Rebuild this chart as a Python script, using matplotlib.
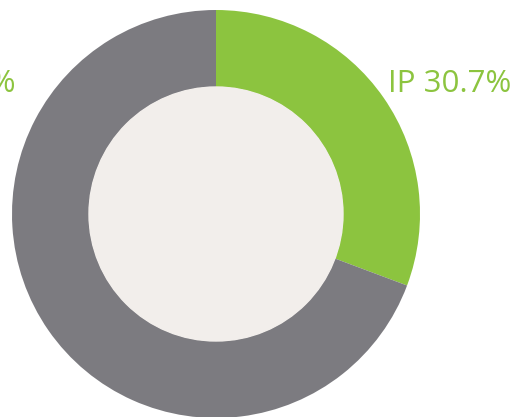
import matplotlib
matplotlib.use('Agg')
import matplotlib.pyplot as plt
from matplotlib.patches import Circle

labels = ['IP', '']
values = [30.7, 69.3]
label_text = ['IP 30.7%', '69.3%']

verde = '#8cc43f'
grigio = '#7c7b80'
crema = '#f2eeeb'

fig = plt.figure(figsize=(5.27, 4.17), dpi=100)
ax = fig.add_axes([0, 0, 1, 1])
ax.set_xlim(0, 527)
ax.set_ylim(0, 417)
ax.set_aspect('equal')
ax.axis('off')

cx, cy = 216, 203
r_out, r_in = 204, 127

ax.pie(values, colors=[verde, grigio], startangle=90, counterclock=False,
       center=(cx, cy), radius=r_out,
       wedgeprops=dict(width=r_out - r_in, linewidth=0))
ax.add_patch(Circle((cx, cy), r_in, color=crema, zorder=3))
ax.set_xlim(0, 527)
ax.set_ylim(0, 417)

# etichette (quella a sinistra è tagliata dal bordo come nell'originale)
ax.text(388, 325, label_text[0], color=verde, fontsize=22.5, family='Open Sans',
        ha='left', va='baseline')
ax.text(16, 325, label_text[1], color=verde, fontsize=22.5, family='Open Sans',
        ha='right', va='baseline')

fig.savefig('out.png', dpi=100)
